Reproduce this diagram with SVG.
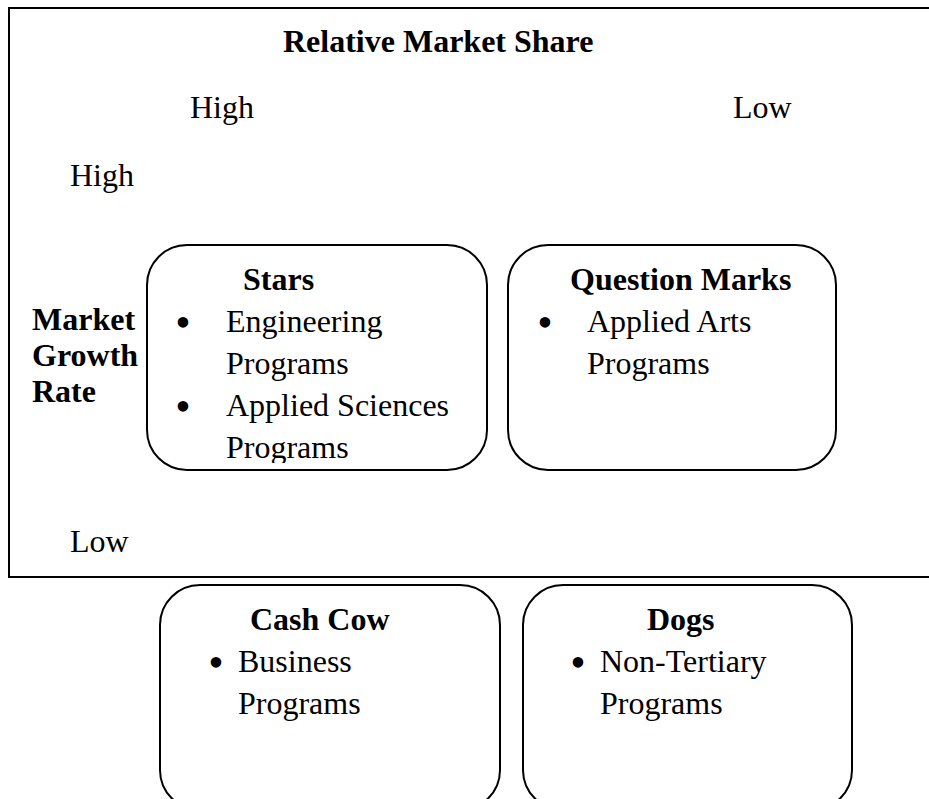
<svg xmlns="http://www.w3.org/2000/svg" width="929" height="799" viewBox="0 0 929 799">
  <style>
    text { font-family: "Liberation Serif", "Times New Roman", serif; font-size: 32px; fill: #000; }
    .b { font-weight: bold; }
    .dot { font-size: 44px; text-anchor: middle; }
    .box { fill: #fff; stroke: #000; stroke-width: 2; }
    .frame { fill: none; stroke: #000; stroke-width: 2; }
  </style>
  <defs>
    <clipPath id="clipStars"><rect x="147" y="245" width="340" height="218"/></clipPath>
  </defs>

  <!-- outer frame: top, left and bottom edges only -->
  <g id="frame">
    <path class="frame" d="M930,8 H9 V577 H930"/>
  </g>

  <g id="axis-labels">
    <text class="b" x="283" y="52">Relative Market Share</text>
    <text x="190" y="118">High</text>
    <text x="733" y="118">Low</text>
    <text x="70" y="186">High</text>
    <text class="b" x="32" y="330">Market</text>
    <text class="b" x="32" y="366">Growth</text>
    <text class="b" x="32" y="402">Rate</text>
    <text x="70" y="552">Low</text>
  </g>

  <g id="stars">
    <rect class="box" x="147" y="245" width="340" height="225" rx="40"/>
    <g clip-path="url(#clipStars)">
      <text class="b" x="243" y="290">Stars</text>
      <text class="dot" x="183" y="337">•</text>
      <text x="226" y="332">Engineering</text>
      <text x="226" y="374">Programs</text>
      <text class="dot" x="183" y="421">•</text>
      <text x="226" y="416">Applied Sciences</text>
      <text x="226" y="458">Programs</text>
    </g>
  </g>

  <g id="question-marks">
    <rect class="box" x="508" y="245" width="328" height="225" rx="40"/>
    <text class="b" x="570" y="290">Question Marks</text>
    <text class="dot" x="545" y="337">•</text>
    <text x="587" y="332">Applied Arts</text>
    <text x="587" y="374">Programs</text>
  </g>

  <g id="cash-cow">
    <rect class="box" x="160" y="585" width="340" height="225" rx="40"/>
    <text class="b" x="250" y="630">Cash Cow</text>
    <text class="dot" x="216" y="677">•</text>
    <text x="238" y="672">Business</text>
    <text x="238" y="714">Programs</text>
  </g>

  <g id="dogs">
    <rect class="box" x="523" y="585" width="329" height="225" rx="40"/>
    <text class="b" x="647" y="630">Dogs</text>
    <text class="dot" x="578" y="677">•</text>
    <text x="600" y="672">Non-Tertiary</text>
    <text x="600" y="714">Programs</text>
  </g>

  <g id="connectors"/>
</svg>
